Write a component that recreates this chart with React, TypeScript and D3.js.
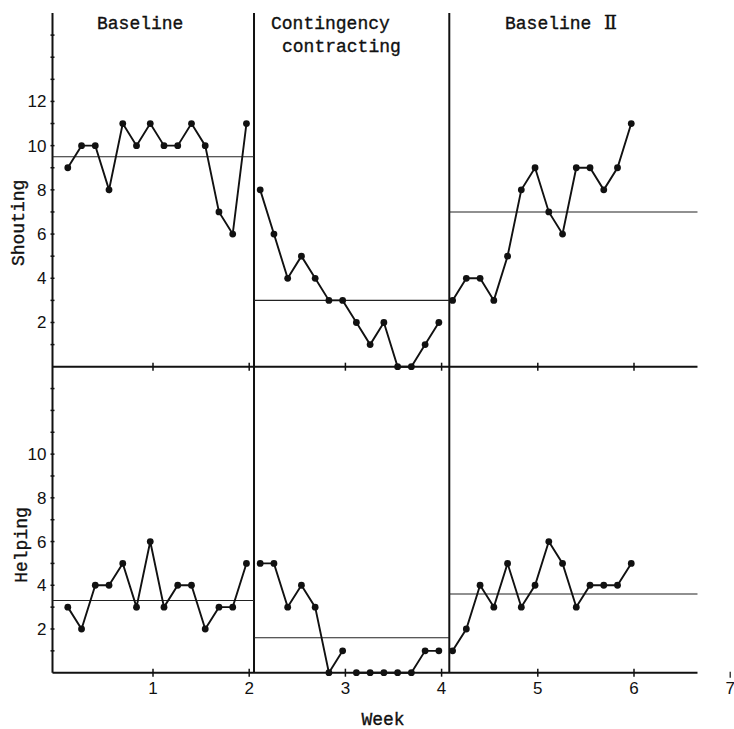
import React, { useEffect, useRef } from "react";
import * as d3 from "d3";

// session days (7 per week), one list per phase
const baselineDays = [1, 2, 3, 4, 5, 6, 7, 8, 9, 10, 11, 12, 13, 14];
const contingencyDays = [15, 16, 17, 18, 19, 20, 21, 22, 23, 24, 25, 26, 27, 28];
const baseline2Days = [29, 30, 31, 32, 33, 34, 35, 36, 37, 38, 39, 40, 41, 42];

// Shouting
const shoutBaseline = [9, 10, 10, 8, 11, 10, 11, 10, 10, 11, 10, 7, 6, 11];
const shoutContingency = [8, 6, 4, 5, 4, 3, 3, 2, 1, 2, 0, 0, 1, 2];
const shoutBaseline2 = [3, 4, 4, 3, 5, 8, 9, 7, 6, 9, 9, 8, 9, 11];
const shoutMeans = [9.5, 3.0, 7.0];

// Helping
const helpBaseline = [3, 2, 4, 4, 5, 3, 6, 3, 4, 4, 2, 3, 3, 5];
const helpContingency = [5, 5, 3, 4, 3, 0, 1, 0, 0, 0, 0, 0, 1, 1];
const helpBaseline2 = [1, 2, 4, 3, 5, 3, 4, 6, 5, 3, 4, 4, 4, 5];
const helpMeans = [3.3, 1.6, 3.6];
const helpGapAfterDay = 21; // line broken at the end of week 3

// phase boundaries in weeks
const phaseBounds = [0, 2.05, 4.08, 6.66];
const weekTicks = [1, 2, 3, 4, 5, 6];
const shoutTickLabels = [2, 4, 6, 8, 10, 12];
const helpTickLabels = [2, 4, 6, 8, 10];

const mono = "'Liberation Mono', 'Courier New', monospace";
const sans = "'Liberation Sans', Arial, sans-serif";

const App = () => {
  const ref = useRef<SVGSVGElement>(null);

  useEffect(() => {
    const svg = d3.select(ref.current);
    svg.selectAll("*").remove();

    const x = d3.scaleLinear().domain([0, 7]).range([56.8, 730.2]);
    const dayX = (d: number) => x((d - 0.2) / 7);
    const axisX = 52.5;

    const yTop = d3.scaleLinear().domain([0, 16]).range([366.7, 13]);
    const yBot = d3.scaleLinear().domain([0, 14]).range([672.7, 366.7]);

    const g = svg.append("g");

    // y axes
    g.append("line")
      .attr("x1", axisX).attr("x2", axisX)
      .attr("y1", yTop(16)).attr("y2", yBot(0))
      .attr("stroke", "#111").attr("stroke-width", 2);

    // x axes (top panel base and bottom panel base)
    [yTop(0), yBot(0)].forEach((yy) => {
      g.append("line")
        .attr("x1", axisX).attr("x2", x(phaseBounds[3]))
        .attr("y1", yy).attr("y2", yy)
        .attr("stroke", "#111").attr("stroke-width", 2);
      weekTicks.forEach((w) => {
        g.append("line")
          .attr("x1", x(w)).attr("x2", x(w))
          .attr("y1", yy - 4).attr("y2", yy + 4)
          .attr("stroke", "#111").attr("stroke-width", 1.5);
      });
    });

    // week labels
    [...weekTicks, 7].forEach((w) => {
      g.append("text")
        .attr("x", x(w)).attr("y", yBot(0) + 21)
        .attr("text-anchor", "middle")
        .style("font-family", sans).style("font-size", "17px")
        .attr("fill", "#111")
        .text(w);
    });
    // stray tick above the 7
    g.append("line")
      .attr("x1", x(7)).attr("x2", x(7))
      .attr("y1", yBot(0) - 1).attr("y2", yBot(0) + 5)
      .attr("stroke", "#111").attr("stroke-width", 1.2);

    // y ticks
    d3.range(1, 16).forEach((v) => {
      g.append("line")
        .attr("x1", axisX - 2).attr("x2", axisX + 2)
        .attr("y1", yTop(v)).attr("y2", yTop(v))
        .attr("stroke", "#111").attr("stroke-width", 1.5);
    });
    d3.range(1, 14).forEach((v) => {
      g.append("line")
        .attr("x1", axisX - 2).attr("x2", axisX + 2)
        .attr("y1", yBot(v)).attr("y2", yBot(v))
        .attr("stroke", "#111").attr("stroke-width", 1.5);
    });
    shoutTickLabels.forEach((v) => {
      g.append("text")
        .attr("x", axisX - 6).attr("y", yTop(v) + 6)
        .attr("text-anchor", "end")
        .style("font-family", sans).style("font-size", "17px")
        .attr("fill", "#111")
        .text(v);
    });
    helpTickLabels.forEach((v) => {
      g.append("text")
        .attr("x", axisX - 6).attr("y", yBot(v) + 6)
        .attr("text-anchor", "end")
        .style("font-family", sans).style("font-size", "17px")
        .attr("fill", "#111")
        .text(v);
    });

    // phase divider lines
    [phaseBounds[1], phaseBounds[2]].forEach((b) => {
      g.append("line")
        .attr("x1", x(b)).attr("x2", x(b))
        .attr("y1", yTop(16)).attr("y2", yBot(0))
        .attr("stroke", "#111").attr("stroke-width", 2);
    });

    // phase means
    const drawMeans = (means: number[], y: d3.ScaleLinear<number, number>) => {
      means.forEach((m, i) => {
        g.append("line")
          .attr("x1", i === 0 ? axisX : x(phaseBounds[i]))
          .attr("x2", x(phaseBounds[i + 1]))
          .attr("y1", y(m)).attr("y2", y(m))
          .attr("stroke", "#222").attr("stroke-width", 1.1);
      });
    };
    drawMeans(shoutMeans, yTop);
    drawMeans(helpMeans, yBot);

    // data series
    const drawSeries = (
      days: number[],
      vals: number[],
      y: d3.ScaleLinear<number, number>,
      gapAfter?: number
    ) => {
      const pts = days.map((d, i) => ({ d, v: vals[i] }));
      const segs: { d: number; v: number }[][] = [];
      if (gapAfter) {
        segs.push(pts.filter((p) => p.d <= gapAfter));
        segs.push(pts.filter((p) => p.d > gapAfter));
      } else segs.push(pts);
      const line = d3
        .line<{ d: number; v: number }>()
        .x((p) => dayX(p.d))
        .y((p) => y(p.v));
      segs.forEach((s) => {
        g.append("path")
          .attr("d", line(s))
          .attr("fill", "none")
          .attr("stroke", "#111")
          .attr("stroke-width", 1.9);
      });
      g.selectAll(null)
        .data(pts)
        .enter()
        .append("circle")
        .attr("cx", (p) => dayX(p.d))
        .attr("cy", (p) => y(p.v))
        .attr("r", 3.4)
        .attr("fill", "#111");
    };

    drawSeries(baselineDays, shoutBaseline, yTop);
    drawSeries(contingencyDays, shoutContingency, yTop);
    drawSeries(baseline2Days, shoutBaseline2, yTop);
    drawSeries(baselineDays, helpBaseline, yBot);
    drawSeries(contingencyDays, helpContingency, yBot, helpGapAfterDay);
    drawSeries(baseline2Days, helpBaseline2, yBot);

    // monospace typewriter-ish text, slightly heavier like the scan
    const monoText = (sel: d3.Selection<SVGTextElement, unknown, null, undefined>) =>
      sel
        .style("font-family", mono).style("font-size", "18px")
        .attr("fill", "#111")
        .attr("stroke", "#111").attr("stroke-width", 0.35);

    // phase titles
    const title = (tx: number, ty: number, s: string) =>
      monoText(g.append("text").attr("x", tx).attr("y", ty)).text(s);
    title(97, 29, "Baseline");
    title(271, 29, "Contingency");
    title(282, 52, "contracting");
    const b2 = monoText(g.append("text").attr("x", 505).attr("y", 29));
    b2.append("tspan").text("Baseline");
    b2.append("tspan")
      .attr("x", 604)
      .style("font-family", "'DejaVu Serif', serif")
      .style("font-size", "19px")
      .text("\u2161");

    // axis titles
    monoText(
      g.append("text")
        .attr("transform", `translate(24,${(yTop(0) + yTop(16)) / 2 + 33}) rotate(-90)`)
        .attr("text-anchor", "middle")
    ).text("Shouting");
    monoText(
      g.append("text")
        .attr("transform", `translate(27,545) rotate(-90)`)
        .attr("text-anchor", "middle")
    ).text("Helping");
    monoText(
      g.append("text")
        .attr("x", 383).attr("y", 725)
        .attr("text-anchor", "middle")
    ).text("Week");
  }, []);

  return (
    <svg
      ref={ref}
      width={734}
      height={729}
      style={{ position: "absolute", left: 0, top: 0, background: "#fff" }}
    />
  );
};

export default App;
